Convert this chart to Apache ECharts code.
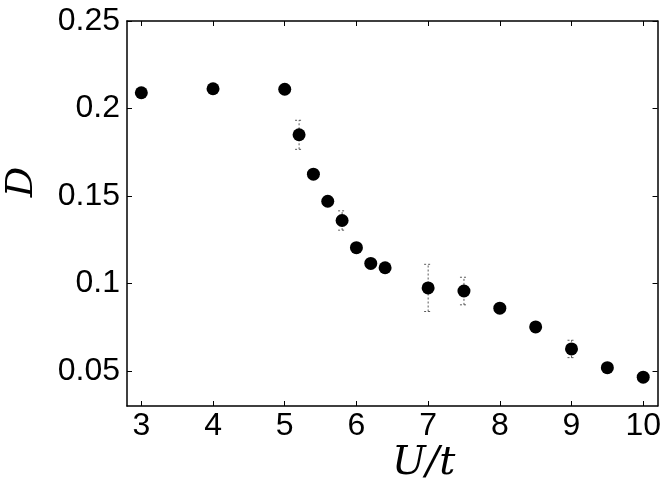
<!DOCTYPE html>
<html>
<head>
<meta charset="utf-8">
<script src="https://cdn.jsdelivr.net/npm/echarts@6/dist/echarts.min.js"></script>
<style>html,body{margin:0;padding:0;background:#fff;}#c{width:664px;height:495px;}</style>
</head>
<body>
<div id="c"></div>
<script>
const uOverT = [3, 4, 5, 5.2, 5.4, 5.6, 5.8, 6, 6.2, 6.4, 7, 7.5, 8, 8.5, 9, 9.5, 10];
const dValues = [0.209, 0.2113, 0.211, 0.185, 0.1625, 0.147, 0.136, 0.1205, 0.1115, 0.109, 0.0975, 0.0957, 0.0859, 0.0752, 0.0626, 0.0519, 0.0465];
const dErrorUp = [0, 0, 0, 0.0083, 0, 0, 0.0055, 0, 0, 0, 0.0135, 0.0079, 0, 0, 0.005, 0, 0];
const xTicks = [3, 4, 5, 6, 7, 8, 9, 10];
const yTicks = [0.05, 0.1, 0.15, 0.2, 0.25];
const xTitle = 'U/t';
const yTitle = 'D';

const points = uOverT.map((x, i) => [x, dValues[i]]);
const errData = uOverT.map((x, i) => [x, dValues[i] - dErrorUp[i], dValues[i] + dErrorUp[i]]).filter((d, i) => dErrorUp[i] > 0);

const font = 'Liberation Sans, Arial, Helvetica, sans-serif';
const axisCommon = {
  type: 'value',
  axisLine: { show: true, lineStyle: { color: '#000', width: 1.5 } },
  splitLine: { show: false }
};
const chart = echarts.init(document.getElementById('c'), null, { renderer: 'canvas' });
chart.setOption({
  animation: false,
  grid: { left: 127, right: 6, top: 21, bottom: 89 },
  xAxis: [
    Object.assign({}, axisCommon, {
      min: 2.8, max: 10.2, position: 'bottom',
      axisTick: { show: true, inside: true, length: 5, lineStyle: { color: '#000' }, customValues: xTicks },
      axisLabel: { show: true, customValues: xTicks, color: '#000', fontSize: 32, fontFamily: font, margin: 4, hideOverlap: false }
    }),
    Object.assign({}, axisCommon, {
      min: 2.8, max: 10.2, position: 'top',
      axisTick: { show: true, inside: true, length: 5, lineStyle: { color: '#000' }, customValues: xTicks },
      axisLabel: { show: false }
    })
  ],
  yAxis: [
    Object.assign({}, axisCommon, {
      min: 0.03, max: 0.25, position: 'left',
      axisTick: { show: true, inside: true, length: 5, lineStyle: { color: '#000' }, customValues: yTicks },
      axisLabel: { show: true, customValues: yTicks, color: '#000', fontSize: 32, fontFamily: font, margin: 7,
        formatter: v => String(+v.toFixed(2)) }
    }),
    Object.assign({}, axisCommon, {
      min: 0.03, max: 0.25, position: 'right',
      axisTick: { show: true, inside: true, length: 5, lineStyle: { color: '#000' }, customValues: yTicks },
      axisLabel: { show: false }
    })
  ],
  graphic: [
    { type: 'text', left: 392, top: 444, style: { text: xTitle, font: 'italic 40px "DejaVu Serif", serif', fill: '#000' } },
    { type: 'text', x: 22, y: 182, rotation: Math.PI / 2, style: { x: 0, y: 0, text: yTitle, font: 'italic 38px "DejaVu Serif", serif', fill: '#000', align: 'center', verticalAlign: 'middle' } }
  ],
  series: [
    {
      type: 'custom',
      xAxisIndex: 0, yAxisIndex: 0,
      data: errData,
      z: 1,
      renderItem: function (params, api) {
        const x = api.value(0);
        const lo = api.coord([x, api.value(1)]);
        const hi = api.coord([x, api.value(2)]);
        const cw = 4;
        const st = { stroke: '#333', lineWidth: 0.8, lineDash: [2, 2] };
        return {
          type: 'group',
          children: [
            { type: 'line', shape: { x1: lo[0], y1: lo[1], x2: hi[0], y2: hi[1] }, style: st },
            { type: 'line', shape: { x1: lo[0] - cw, y1: lo[1], x2: lo[0] + cw, y2: lo[1] }, style: st },
            { type: 'line', shape: { x1: hi[0] - cw, y1: hi[1], x2: hi[0] + cw, y2: hi[1] }, style: st }
          ]
        };
      }
    },
    {
      type: 'scatter',
      xAxisIndex: 0, yAxisIndex: 0,
      data: points,
      symbol: 'circle',
      symbolSize: 13,
      itemStyle: { color: '#000', opacity: 1 },
      z: 2
    }
  ]
});
</script>
</body>
</html>
